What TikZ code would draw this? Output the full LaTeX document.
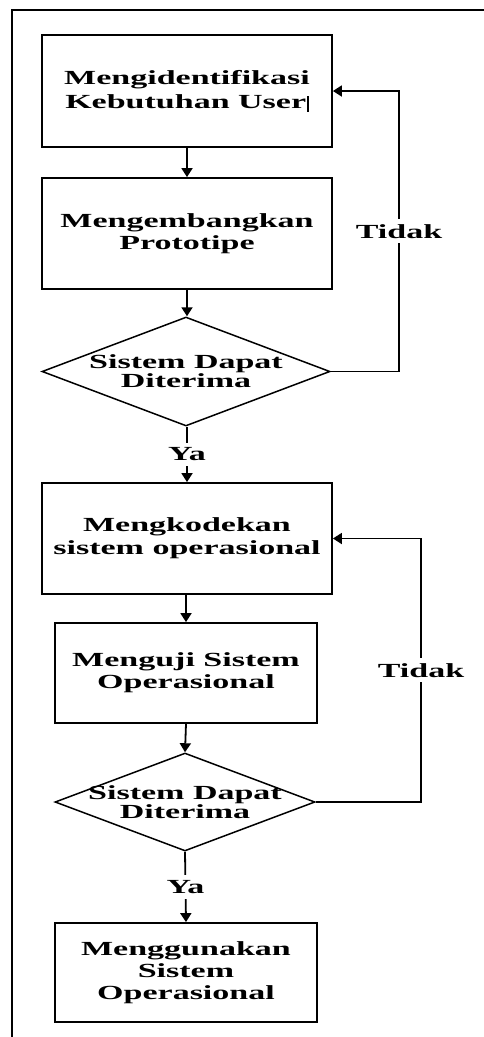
\documentclass[tikz,border=0pt]{standalone}
\usepackage{fontspec}
\setmainfont{Liberation Serif}[FakeStretch=1.7]
\usetikzlibrary{shapes.geometric,arrows.meta}
\begin{document}
\begin{tikzpicture}[x=1pt,y=-1pt,
  lbltext/.style={font=\bfseries\fontsize{20}{22}\selectfont},
  proc/.style={draw,line width=1.8pt,inner sep=0pt,align=center,lbltext},
  decision/.style={draw,diamond,line width=1.5pt,inner sep=0pt},
  dectext/.style={align=center,inner sep=0pt,font=\bfseries\fontsize{20}{19}\selectfont},
  arr/.style={line width=1.8pt,-{Triangle[width=11pt,length=9pt]}},
  tag/.style={fill=white,inner sep=5pt,lbltext}]
\useasboundingbox (0,0) rectangle (484,1037);

% page frame
\draw[line width=1.5pt] (484,10) -- (12,10) -- (12,1037);

% first cycle: requirements and prototype
\node[proc,minimum width=290pt,minimum height=112pt] (b1) at (187,91)
  {Mengidentifikasi\\[2pt]Kebutuhan User\kern1pt\rule[-3pt]{1.6pt}{16pt}};
\node[proc,minimum width=290pt,minimum height=111pt] (b2) at (187,233.5)
  {Mengembangkan\\Prototipe};
\node[decision,minimum width=288pt,minimum height=109pt] (d1) at (186,371.5) {};
\node[dectext] (t1) at (d1) {Sistem Dapat\\Diterima};

% second cycle: coding and testing
\node[proc,minimum width=290pt,minimum height=111pt] (b3) at (187,538.5)
  {Mengkodekan\\[1pt]sistem operasional};
\node[proc,minimum width=262pt,minimum height=100pt] (b4) at (186,673)
  {Menguji Sistem\\Operasional};
\node[decision,minimum width=260pt,minimum height=98pt] (d2) at (185,802) {};
\node[dectext] (t2) at (d2) {Sistem Dapat\\Diterima};

\node[proc,minimum width=262pt,minimum height=99pt] (b5) at (186,972.5)
  {Menggunakan\\Sistem\\Operasional};

% loop-back columns
\coordinate (r1) at (399,0);
\coordinate (r2) at (421,0);

% main flow
\draw[arr] (b1.south -| b2.north) -- (b2.north);
\draw[arr] (b2.south) -- (b2.south |- d1.north);
\draw[arr] (b2.south |- d1.south) -- node[tag] {Ya} (b3.north);
\draw[arr] (b3.south -| b4.north) -- (b4.north);
\draw[arr] (b4.south) -- (d2.north);
\draw[arr] (d2.south) -- node[tag] {Ya} (b5.north);

% rejection loops
\draw[arr] (d1.east) -- (d1.east -| r1) |- node[tag,pos=0.25] {Tidak} (b1.east);
\draw[arr] (d2.east) -- (d2.east -| r2) |- node[tag,pos=0.25] {Tidak} (b3.east);
\end{tikzpicture}
\end{document}
